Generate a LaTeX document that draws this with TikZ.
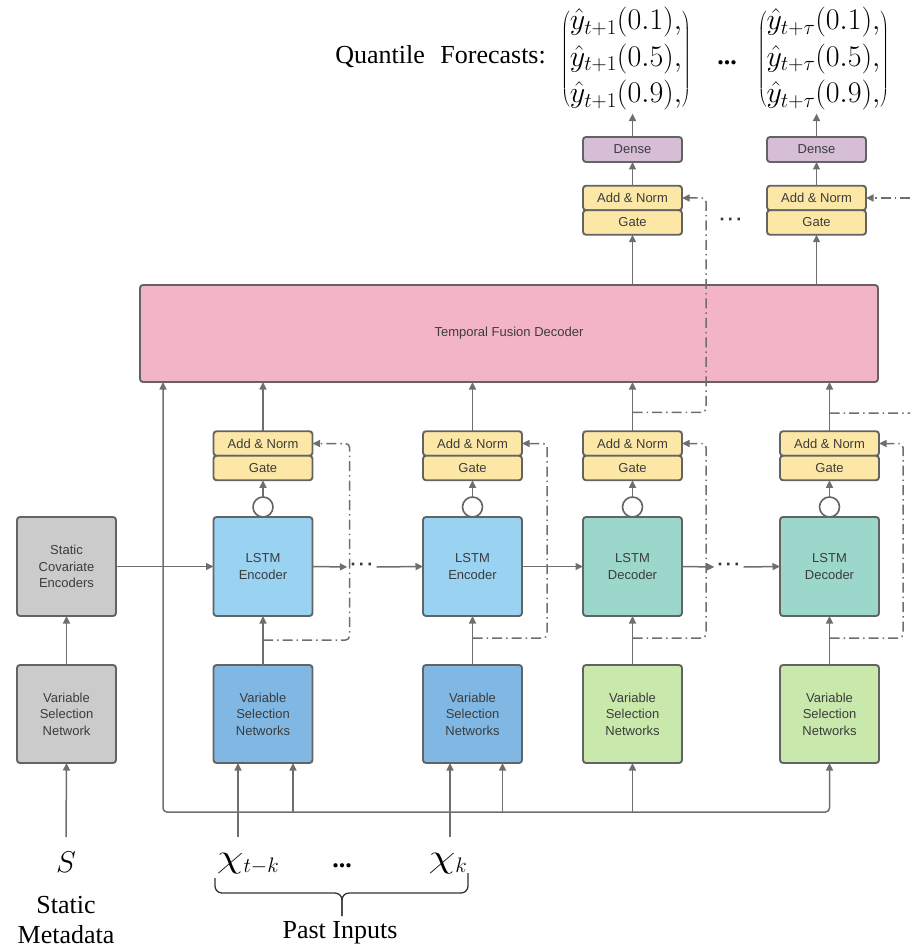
\RequirePackage{fix-cm}
\documentclass[tikz,border=0pt]{standalone}
\usepackage{fontspec}
\setmainfont{Liberation Serif}
\newfontfamily\boxsans{Liberation Sans}
\usetikzlibrary{arrows.meta,calc}

\definecolor{edge}{HTML}{636363}
\definecolor{wire}{HTML}{6E6E6E}
\definecolor{ink}{HTML}{3C3C3C}
\definecolor{normfill}{HTML}{FCE7A6}
\definecolor{densefill}{HTML}{D6BED7}
\definecolor{tfdfill}{HTML}{F4B4C8}
\definecolor{encfill}{HTML}{9AD2F2}
\definecolor{encvsnfill}{HTML}{80B8E3}
\definecolor{decfill}{HTML}{9BD7CA}
\definecolor{decvsnfill}{HTML}{C9E8AC}
\definecolor{statfill}{HTML}{CBCBCB}

% a wide chi for the input labels
\newcommand{\widechi}{\scalebox{1.45}[1.1]{$\chi$}}
% a row of three spaced dots
\newcommand{\dotrow}{{\boxsans\bfseries\textperiodcentered\kern2.5pt\textperiodcentered\kern2.5pt\textperiodcentered}}
% a column of three quantile forecasts
\newcommand{\quantiles}[1]{%
  \delimitershortfall=18pt \delimiterfactor=800
  $\left(\begin{array}{@{}l@{}}\hat y_{#1}(0.1),\\ \hat y_{#1}(0.5),\\ \hat y_{#1}(0.9),\end{array}\right)$}

\begin{document}
\begin{tikzpicture}[x=1pt,y=-1pt,
  arr/.tip={Triangle[length=7.5pt,width=7pt]},
  box/.style={draw=edge, line width=1.9pt, rounded corners=3pt,
    font={\boxsans\fontsize{13}{16.5}\selectfont}, text=ink, align=center,
    inner sep=0pt, outer sep=0pt},
  big/.style={box, minimum width=99pt, minimum height=99pt},
  thin/.style={box, minimum width=99pt, minimum height=24.5pt},
  ring/.style={circle, draw=edge, fill=white, line width=1.6pt, minimum size=20pt, inner sep=0pt, outer sep=0pt},
  conn/.style={draw=wire, line width=1.5pt, -arr},
  wireline/.style={draw=wire, line width=1.5pt},
  resid/.style={draw=wire, line width=1.5pt, dash pattern=on 10pt off 4pt on 1.5pt off 4pt, rounded corners=4pt},
  serif/.style={font={\fontsize{26}{30}\selectfont}, text=black, inner sep=0pt, align=center},
  mathlbl/.style={font={\fontsize{30}{34}\selectfont}, text=black, inner sep=0pt},
  quant/.style={inner sep=0pt, font={\fontsize{30}{33}\selectfont\renewcommand{\arraystretch}{1.1}}},
  dots/.style={font={\fontsize{18}{18}\selectfont}, text=ink!90!black, inner sep=3pt},
]
\useasboundingbox (0,0) rectangle (910,949);

% ---------- temporal fusion decoder ----------
\node[box, fill=tfdfill, minimum width=738pt, minimum height=97pt] (tfd) at (509,333.5) {Temporal Fusion Decoder};

% ---------- static branch ----------
\node[big, fill=statfill] (sce) at (66.5,566.5) {Static\\Covariate\\Encoders};
\node[big, fill=statfill, minimum height=98pt] (svsn) at (66.5,714) {Variable\\Selection\\Network};

% ---------- encoder / decoder columns ----------
\node[big, fill=encfill] (lstm1) at (263,566.5) {LSTM\\Encoder};
\node[big, fill=encfill] (lstm2) at (472.5,566.5) {LSTM\\Encoder};
\node[big, fill=decfill] (lstm3) at (632.5,566.5) {LSTM\\Decoder};
\node[big, fill=decfill] (lstm4) at (829.5,566.5) {LSTM\\Decoder};

\node[big, fill=encvsnfill, minimum height=98pt] (vsn1) at (263,714) {Variable\\Selection\\Networks};
\node[big, fill=encvsnfill, minimum height=98pt] (vsn2) at (472.5,714) {Variable\\Selection\\Networks};
\node[big, fill=decvsnfill, minimum height=98pt] (vsn3) at (632.5,714) {Variable\\Selection\\Networks};
\node[big, fill=decvsnfill, minimum height=98pt] (vsn4) at (829.5,714) {Variable\\Selection\\Networks};

\foreach \i/\x in {1/263,2/472.5,3/632.5,4/829.5}{
  \node[thin, fill=normfill] (an\i) at (\x,443.5) {Add \& Norm};
  \node[thin, fill=normfill] (gate\i) at (\x,468) {Gate};
  \node[ring] (ring\i) at (\x,507) {};
  \draw[conn] (vsn\i.north) -- (lstm\i.south);
  \draw[conn] (ring\i.north) -- (gate\i.south);
  \draw[conn] (an\i.north) -- (an\i.north |- tfd.south);
}

% ---------- output heads ----------
\node[thin, fill=densefill, minimum height=25pt] (dense1) at (632.5,149.5) {Dense};
\node[thin, fill=densefill, minimum height=25pt] (dense2) at (816.5,149.5) {Dense};
\node[thin, fill=normfill] (uan1) at (632.5,198) {Add \& Norm};
\node[thin, fill=normfill] (ugate1) at (632.5,222.5) {Gate};
\node[thin, fill=normfill] (uan2) at (816.5,198) {Add \& Norm};
\node[thin, fill=normfill] (ugate2) at (816.5,222.5) {Gate};
\node[dots] (gdots) at (731,222) {\dotrow};

\node[quant] (q1) at (626,59) {\quantiles{t+1}};
\node[quant] (q2) at (823.5,59) {\quantiles{t+\tau}};
\node[serif] (qdots) at (727,63) {\textbf{...}};
\node[serif, anchor=east] (qlabel) at (546,57) {Quantile\hspace{0.6em}Forecasts:};

\draw[conn] (tfd.north -| ugate1) -- (ugate1.south);
\draw[conn] (tfd.north -| ugate2) -- (ugate2.south);
\draw[conn] (uan1.north) -- (dense1.south);
\draw[conn] (uan2.north) -- (dense2.south);
\draw[conn] (dense1.north) -- (dense1.north |- q1.south);
\draw[conn] (dense2.north) -- (dense2.north |- q2.south);

% ---------- recurrent links ----------
\node[dots] (ldots1) at (362,567) {\dotrow};
\node[dots] (ldots2) at (729,567) {\dotrow};
\draw[conn] (sce.east) -- (lstm1.west);
\draw[conn] (lstm1.east) -- (ldots1.west);
\draw[conn] (ldots1.east) -- (lstm2.west);
\draw[conn] (lstm2.east) -- (lstm3.west);
\draw[conn] (lstm3.east) -- (ldots2.west);
\draw[conn] (ldots2.east) -- (lstm4.west);
\draw[conn] (svsn.north) -- (sce.south);

% ---------- skip connections ----------
\draw[resid, -arr] ($(lstm1.south)+(0,24)$) -| ($(an1.east)+(37,0)$) -- (an1.east);
\draw[resid, -arr] ($(lstm2.south)+(0,22)$) -| ($(an2.east)+(25,0)$) -- (an2.east);
\draw[resid, -arr] ($(lstm3.south)+(0,22)$) -| ($(an3.east)+(24,0)$) -- (an3.east);
\draw[resid, -arr] ($(lstm4.south)+(0,22)$) -| ($(an4.east)+(24,0)$) -- (an4.east);
\draw[resid, -arr] ($(an3.north)+(0,-19)$) -| ($(uan1.east)+(24,0)$) -- (uan1.east);
\coordinate (skipout) at (910,413);
\coordinate (skipin) at (910,198);
\draw[resid] ($(an4.north)+(0,-18)$) -- (skipout);
\draw[resid, -arr] (skipin) -- (uan2.east);

% ---------- input bus ----------
\coordinate (busL) at (163,812);
\coordinate (busR) at (829.5,812);
\draw[wireline, arr-arr, rounded corners=4pt] (tfd.south -| busL) -- (busL) -- (busR) -- (vsn4.south);
\coordinate (fut1) at ($(vsn1.south)+(30,0)$);
\coordinate (fut2) at ($(vsn2.south)+(30,0)$);
\draw[conn] (busL -| fut1) -- (fut1);
\draw[conn] (busL -| fut2) -- (fut2);
\draw[conn] (busL -| vsn3.south) -- (vsn3.south);

% ---------- inputs ----------
\node[mathlbl] (s) at (66,862) {$S$};
\node[mathlbl] (x1) at (248,864) {\widechi$_{t-k}$};
\node[mathlbl] (x2) at (448,864) {\widechi$_{k}$};
\node[serif] (xdots) at (342,866) {\textbf{...}};
\coordinate (sin) at (66,837);
\coordinate (xin1) at (238,837);
\coordinate (xin2) at (450,837);
\draw[conn] (sin) -- (svsn.south);
\draw[conn] (xin1) -- (xin1 |- vsn1.south);
\draw[conn] (xin2) -- (xin2 |- vsn2.south);

% brace under the past inputs
\coordinate (braceL) at (215,878);
\coordinate (braceR) at (468,873);
\coordinate (braceM) at (342,893);
\coordinate (braceTip) at (342,916);
\draw[black!80, line width=1.3pt, rounded corners=7pt] (braceL) |- (braceM) -- (braceTip);
\draw[black!80, line width=1.3pt, rounded corners=7pt] (braceR) |- (braceM) -- (braceTip);

\node[serif] (static) at (66,920) {Static\\Metadata};
\node[serif] (past) at (340,933) {Past Inputs};
\end{tikzpicture}
\end{document}
